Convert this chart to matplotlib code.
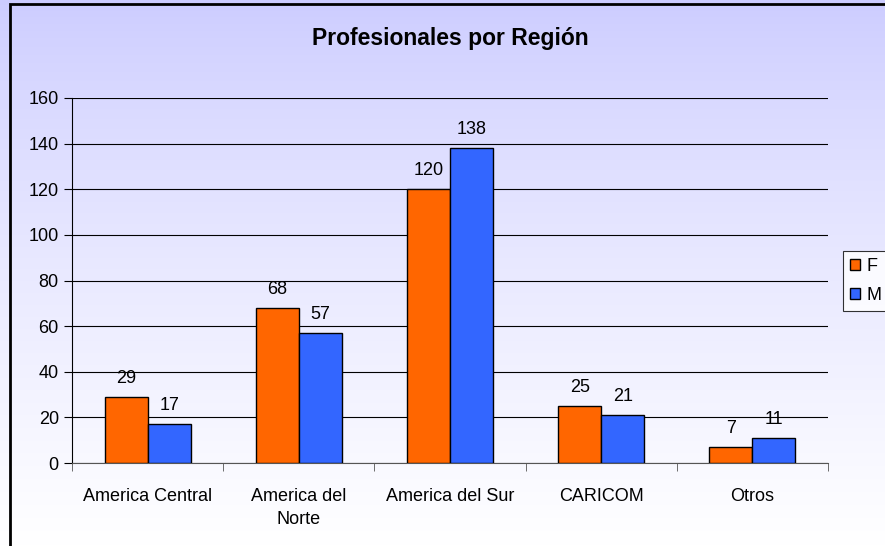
import numpy as np
import matplotlib.pyplot as plt
from matplotlib.patches import Rectangle

plt.rcParams['font.family'] = ['Liberation Sans', 'DejaVu Sans']

# Datos
regiones = ["America Central", "America del\nNorte", "America del Sur", "CARICOM", "Otros"]
fem = [29, 68, 120, 25, 7]
masc = [17, 57, 138, 21, 11]
color_f = "#FF6600"
color_m = "#3366FF"

fig = plt.figure(figsize=(8.85, 5.46), dpi=100)

# fondo degradado
bg = fig.add_axes([0, 0, 1, 1], zorder=-2)
grad = np.linspace(0, 1, 256).reshape(-1, 1)
top = np.array([0xCC, 0xCC, 0xFF]) / 255
bot = np.array([1.0, 1.0, 1.0])
img = top + (bot - top) * grad[..., None] ** 0.8
bg.imshow(img, aspect="auto", extent=[0, 1, 0, 1])
bg.axis("off")
fig.patches.append(Rectangle((10 / 885, -0.1), 1.2, 1 - 4 / 546 + 0.1, transform=fig.transFigure,
                             fill=False, edgecolor="black", lw=2))

ax = fig.add_axes([72 / 885, 1 - 463 / 546, (828 - 72) / 885, (463 - 98) / 546])
ax.patch.set_alpha(0)

x = np.arange(len(regiones))
w = 0.285
b1 = ax.bar(x - w / 2, fem, w, color=color_f, edgecolor="black", lw=1, label="F", zorder=3)
b2 = ax.bar(x + w / 2, masc, w, color=color_m, edgecolor="black", lw=1, label="M", zorder=3)
for bars in (b1, b2):
    for r in bars:
        ax.text(r.get_x() + r.get_width() / 2, r.get_height() + 4.3, str(int(r.get_height())),
                ha="center", va="bottom", fontsize=13, zorder=4)

ax.set_xlim(-0.5, len(regiones) - 0.5)
ax.set_ylim(0, 160)
ax.set_yticks(range(0, 161, 20))
ax.yaxis.grid(True, color="black", lw=0.8)
ax.set_axisbelow(True)
ax.set_xticks(x)
ax.set_xticklabels(regiones, fontsize=13, linespacing=1.5)
ax.set_xticks(np.arange(-0.5, len(regiones)), minor=True)
ax.tick_params(axis="x", which="major", length=0, pad=18)
ax.tick_params(axis="x", which="minor", length=6, color="#555555")
ax.tick_params(axis="y", labelsize=13, length=6)
for s in ("top", "right"):
    ax.spines[s].set_visible(False)
ax.spines["bottom"].set_color("#555555")
ax.spines["left"].set_color("black")

ax.set_title("Profesionales por Región", fontsize=16.5, fontweight="bold", pad=38)

leg = fig.legend(loc="upper left", bbox_to_anchor=(843 / 885, 1 - 251 / 546), fontsize=13,
                 frameon=True, fancybox=False, edgecolor="black", handlelength=0.55,
                 handleheight=0.55, handletextpad=0.35, borderpad=0.4, labelspacing=0.65,
                 borderaxespad=0)
leg.get_frame().set_facecolor("white")
leg.get_frame().set_linewidth(0.8)

fig.savefig("out.png", dpi=100)
